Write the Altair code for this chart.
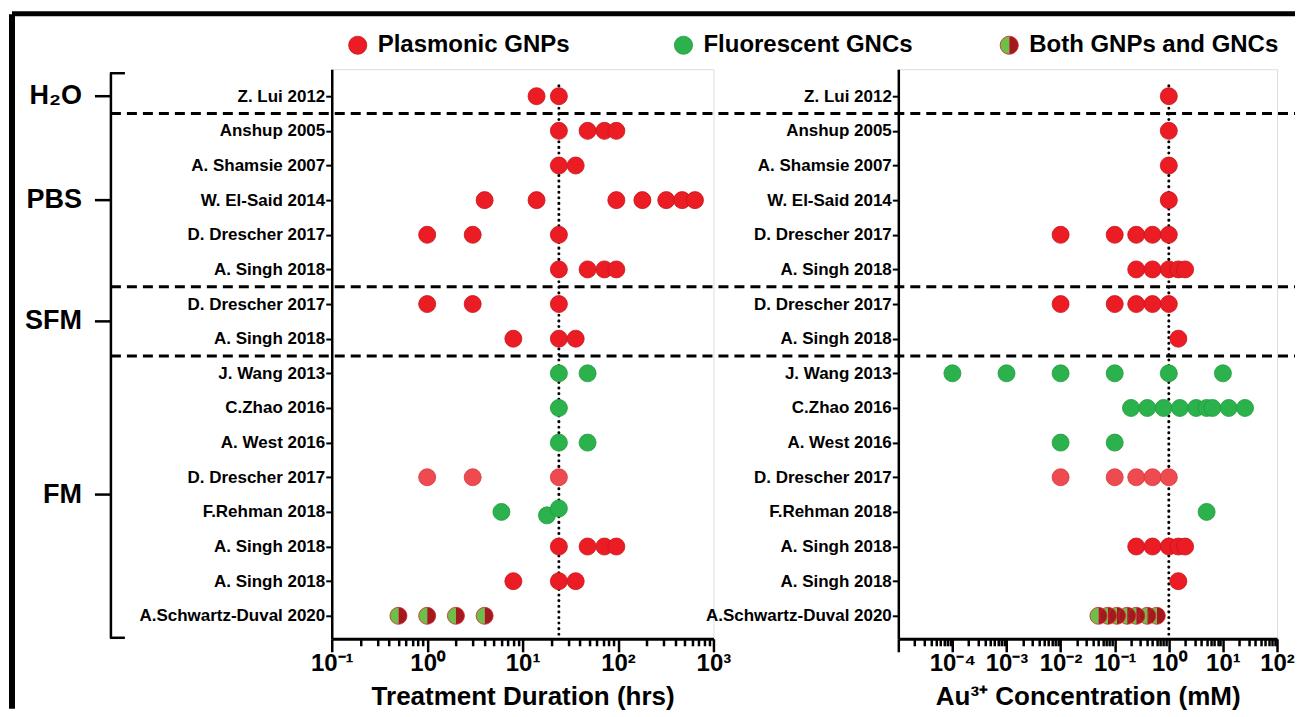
import json
import altair as alt
import pandas as pd

# ---------------- data ----------------
studies = ["Z. Lui 2012", "Anshup 2005", "A. Shamsie 2007", "W. El-Said 2014",
           "D. Drescher 2017", "A. Singh 2018", "D. Drescher 2017", "A. Singh 2018",
           "J. Wang 2013", "C.Zhao 2016", "A. West 2016", "D. Drescher 2017",
           "F.Rehman 2018", "A. Singh 2018", "A. Singh 2018", "A.Schwartz-Duval 2020"]
row_kind = ["GNP", "GNP", "GNP", "GNP", "GNP", "GNP", "GNP", "GNP",
            "GNC", "GNC", "GNC", "GNP_light", "GNC", "GNP", "GNP", "Both"]
media = ["H₂O", "PBS", "SFM", "FM"]
media_rows = [1, 5, 2, 8]

duration_hrs = [[14, 24], [24, 48, 72, 96], [24, 36], [4, 14, 96, 180, 320, 470, 640],
                [1, 3, 24], [24, 48, 72, 96], [1, 3, 24], [8, 24, 36],
                [24, 48], [24], [24, 48], [1, 3, 24],
                [6, 18, 24], [24, 48, 72, 96], [8, 24, 36], [0.5, 1, 2, 4]]
duration_row_shift = {12: [0.0, 0.1, -0.1]}
conc_mM = [[1], [1], [1], [1],
           [0.01, 0.1, 0.25, 0.5, 1], [0.25, 0.5, 1, 1.5, 2],
           [0.01, 0.1, 0.25, 0.5, 1], [1.5],
           [1e-4, 1e-3, 1e-2, 0.1, 1, 10],
           [0.2, 0.4, 0.8, 1.6, 3.2, 5, 6.4, 12.8, 25.6],
           [0.01, 0.1], [0.01, 0.1, 0.25, 0.5, 1], [5],
           [0.25, 0.5, 1, 1.5, 2], [1.5],
           [0.05, 0.075, 0.11, 0.17, 0.25, 0.4, 0.6]]
duration_ref = 24
conc_ref = 1

legend_labels = ["Plasmonic GNPs", "Fluorescent GNCs", "Both GNPs and GNCs"]
legend_kind = ["GNP", "GNC", "Both"]

left_major = [0.1, 1, 10, 100, 1000]
left_tick_labels = ["10⁻¹", "10⁰", "10¹", "10²", "10³"]
right_major = [1e-5, 1e-4, 1e-3, 1e-2, 1e-1, 1, 10, 100]
right_tick_labels = ["", "10⁻⁴", "10⁻³", "10⁻²", "10⁻¹", "10⁰", "10¹", "10²"]

# ---------------- styling ----------------
FONT = "Liberation Sans"
kind_domain = ["GNP", "GNC", "GNP_light"]
kind_fill = ["#ec1c24", "#2bb24c", "#ee4b50"]
kind_stroke = ["#c4161c", "#229a3e", "#d23a3f"]
HALF_GREEN = "#6cc04a"
HALF_RED = "#a21a1d"
LEFT_HALF = "M0,-1A1,1,0,0,0,0,1Z"
RIGHT_HALF = "M0,-1A1,1,0,0,1,0,1Z"
DOT = 290
W_L, W_R, H = 382, 379, 570
ROW_DOMAIN = [-0.779, 15.663]


def long_table(values, shifts=None):
    recs = []
    for i, vals in enumerate(values):
        for j, v in enumerate(vals):
            s = 0.0
            if shifts and i in shifts:
                s = shifts[i][j]
            recs.append({"row": i + s, "value": v, "kind": row_kind[i]})
    return pd.DataFrame(recs)


df_dur = long_table(duration_hrs, duration_row_shift)
df_con = long_table(conc_mM)

centers, seps, start = [], [], 0
for n in media_rows:
    centers.append(start + (n - 1) / 2)
    start += n
    seps.append(start - 0.5)
df_media = pd.DataFrame({"medium": media, "center": centers})
df_sep = pd.DataFrame({"pos": seps[:-1]})
df_one = pd.DataFrame({"a": [0]})
df_leg = pd.DataFrame({"label": legend_labels, "kind": legend_kind})


def major_test(majors):
    return " || ".join(f"abs(datum.value/{m}-1)<1e-6" for m in majors)


def label_expr(majors, labels):
    expr = "''"
    for m, l in reversed(list(zip(majors, labels))):
        expr = f"abs(datum.value/{m}-1)<1e-6 ? '{l}' : " + expr
    return expr


def all_ticks(lo_exp, hi_exp):
    vals = []
    for e in range(lo_exp, hi_exp):
        for k in range(1, 10):
            vals.append(float(f"{k}e{e}"))
    vals.append(float(f"1e{hi_exp}"))
    return vals


def x_axis(majors, labels, lo, hi, title):
    return alt.Axis(values=all_ticks(lo, hi), labelExpr=label_expr(majors, labels),
                    tickSize={"condition": {"test": major_test(majors), "value": 13}, "value": 7},
                    tickWidth=2.5, tickColor="black", domainWidth=3, domainColor="black",
                    labelFont=FONT, labelFontSize=24, labelFontWeight="bold", labelColor="black",
                    labelPadding=0, labelOverlap=False, labelFlush=False, labelBound=False,
                    grid=False, title=title, titleFont=FONT, titleFontSize=26,
                    titleFontWeight="bold", titleColor="black", titlePadding=8)


y_lab_expr = json.dumps(studies, ensure_ascii=False) + "[datum.value]"

Y_AXIS = alt.Axis(values=list(range(len(studies))), labelExpr=y_lab_expr, tickSize=6,
                  tickWidth=2, tickColor="black", domainWidth=2.5, domainColor="black",
                  labelFont=FONT, labelFontSize=17, labelFontWeight="bold", labelColor="black",
                  labelPadding=1, labelOverlap=False, labelBound=False, labelFlush=False,
                  labelLimit=400, grid=False, title=None)

ys = alt.Scale(domain=ROW_DOMAIN, reverse=True, nice=False, zero=False)
xs_left = alt.Scale(type="log", domain=[0.1, 1000], nice=False)
xs_right = alt.Scale(type="log", domain=[1e-5, 100], nice=False)
col_scale = alt.Scale(domain=kind_domain, range=kind_fill)
str_scale = alt.Scale(domain=kind_domain, range=kind_stroke)


def panel(df, xs, xaxis, ref):
    base = alt.Chart(df)
    xenc = alt.X("value:Q", scale=xs, axis=xaxis)
    yenc = alt.Y("row:Q", scale=ys, axis=Y_AXIS)
    refline = alt.Chart(df_one).mark_rule(color="black", strokeWidth=3, strokeDash=[0.1, 5.5],
                                          strokeCap="round").encode(
        x=alt.X(datum=ref, type="quantitative", scale=xs, axis=xaxis),
        y=alt.Y(datum=-0.3, type="quantitative", scale=ys, axis=Y_AXIS),
        y2=alt.value(H))
    pts = base.transform_filter("datum.kind != 'Both'").mark_point(
        filled=True, shape="circle", size=DOT, opacity=1, strokeWidth=0.8).encode(
        x=xenc, y=yenc,
        fill=alt.Fill("kind:N", scale=col_scale, legend=None),
        stroke=alt.Stroke("kind:N", scale=str_scale, legend=None))
    both = base.transform_filter("datum.kind == 'Both'")
    lh = both.mark_point(filled=True, shape=LEFT_HALF, size=DOT, opacity=1,
                         color=HALF_GREEN, strokeWidth=0).encode(x=xenc, y=yenc)
    rh = both.mark_point(filled=True, shape=RIGHT_HALF, size=DOT, opacity=1,
                         color=HALF_RED, strokeWidth=0).encode(x=xenc, y=yenc)
    ol = both.mark_point(filled=False, shape="circle", size=DOT, opacity=1,
                         color="#d0262b", strokeWidth=0.8).encode(x=xenc, y=yenc)
    return [refline, pts, lh, rh, ol]


# ---------- left panel ----------
seps_layer = alt.Chart(df_sep).mark_rule(color="black", strokeWidth=3, strokeDash=[10, 6]).encode(
    y=alt.Y("pos:Q", scale=ys, axis=Y_AXIS), x=alt.value(-221), x2=alt.value(964))
bracket = alt.Chart(df_one).mark_rule(color="black", strokeWidth=2.5).encode(
    x=alt.value(-221), y=alt.value(4), y2=alt.value(569))
cap_top = alt.Chart(df_one).mark_rule(color="black", strokeWidth=2.5).encode(
    x=alt.value(-222), x2=alt.value(-207), y=alt.value(4))
cap_bot = alt.Chart(df_one).mark_rule(color="black", strokeWidth=2.5).encode(
    x=alt.value(-222), x2=alt.value(-207), y=alt.value(569))
grp_ticks = alt.Chart(df_media).mark_rule(color="black", strokeWidth=2.5).encode(
    y=alt.Y("center:Q", scale=ys, axis=Y_AXIS), x=alt.value(-237), x2=alt.value(-221))
grp_text = alt.Chart(df_media).mark_text(font=FONT, fontSize=27, fontWeight="bold", align="right",
                                         baseline="middle", color="black").encode(
    y=alt.Y("center:Q", scale=ys, axis=Y_AXIS), x=alt.value(-250), text="medium:N")
frame_left = alt.Chart(df_one).mark_rule(color="black", strokeWidth=6).encode(
    x=alt.value(-320), y=alt.value(-55), y2=alt.value(640))
frame_top = alt.Chart(df_one).mark_rule(color="black", strokeWidth=5).encode(
    x=alt.value(-320), x2=alt.value(964), y=alt.value(-55.5))

left_main = alt.layer(seps_layer, *panel(df_dur, xs_left,
                                         x_axis(left_major, left_tick_labels, -1, 3,
                                                "Treatment Duration (hrs)"), duration_ref),
                      bracket, cap_top, cap_bot, grp_ticks, grp_text, frame_left, frame_top)

leg_x = alt.X("label:N", scale=alt.Scale(domain=legend_labels, type="point", range=[26, 678],
                                         padding=0), axis=None)
leg_base = alt.Chart(df_leg)
leg_dot = leg_base.transform_filter("datum.kind != 'Both'").mark_point(
    filled=True, shape="circle", size=330, opacity=1, strokeWidth=0.8).encode(
    x=leg_x, y=alt.value(-24),
    fill=alt.Fill("kind:N", scale=col_scale, legend=None),
    stroke=alt.Stroke("kind:N", scale=str_scale, legend=None))
leg_both = leg_base.transform_filter("datum.kind == 'Both'")
leg_lh = leg_both.mark_point(filled=True, shape=LEFT_HALF, size=330, opacity=1, color=HALF_GREEN,
                             strokeWidth=0).encode(x=leg_x, y=alt.value(-24))
leg_rh = leg_both.mark_point(filled=True, shape=RIGHT_HALF, size=330, opacity=1, color=HALF_RED,
                             strokeWidth=0).encode(x=leg_x, y=alt.value(-24))
leg_ol = leg_both.mark_point(filled=False, shape="circle", size=330, opacity=1, color="#d0262b",
                             strokeWidth=0.8).encode(x=leg_x, y=alt.value(-24))
leg_txt = leg_base.mark_text(font=FONT, fontSize=24, fontWeight="bold", align="left",
                             baseline="middle", dx=20, color="black").encode(
    x=leg_x, y=alt.value(-24), text="label:N")
legend_layer = alt.layer(leg_dot, leg_lh, leg_rh, leg_ol, leg_txt)

left = alt.layer(left_main, legend_layer).resolve_scale(x="independent").properties(
    width=W_L, height=H)

# ---------- right panel ----------
right = alt.layer(*panel(df_con, xs_right,
                         x_axis(right_major, right_tick_labels, -5, 2,
                                "Au³⁺ Concentration (mM)"), conc_ref)).properties(
    width=W_R, height=H)

chart = alt.hconcat(left, right, spacing=185, bounds="flush",
                    padding={"left": 0, "top": 2, "right": 0, "bottom": 0}
                    ).configure_view(stroke=None).configure(font=FONT)

chart.save("out.html", embed_options={"renderer": "svg", "actions": False})
